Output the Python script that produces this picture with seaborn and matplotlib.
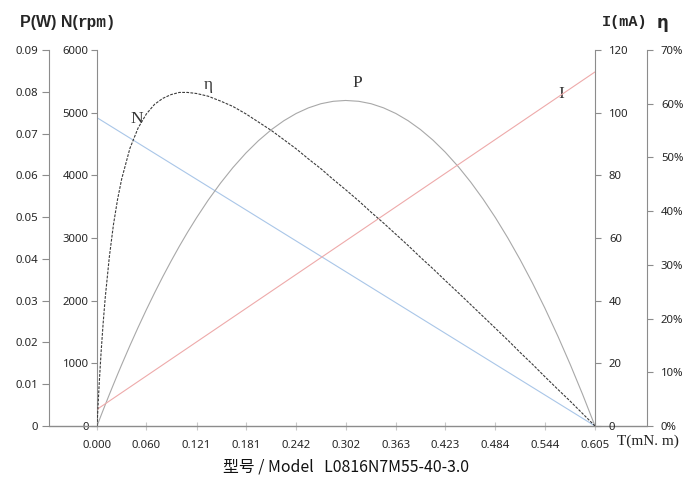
import matplotlib
matplotlib.use("Agg")
import matplotlib.pyplot as plt
import matplotlib.ticker as mticker
import seaborn as sns
import pandas as pd

# ---- data ----
torque = [0, 0.0025, 0.005, 0.0075, 0.01, 0.015, 0.02, 0.025, 0.03, 0.04, 0.05, 0.06,
          0.07, 0.08, 0.09, 0.10, 0.11, 0.121, 0.135, 0.15, 0.165, 0.181, 0.196, 0.212,
          0.227, 0.242, 0.257, 0.272, 0.287, 0.302, 0.318, 0.333, 0.348, 0.363, 0.378,
          0.393, 0.408, 0.423, 0.439, 0.454, 0.469, 0.484, 0.499, 0.514, 0.529, 0.544,
          0.56, 0.575, 0.59, 0.605]
power_w = [0, 0.00128, 0.00256, 0.00382, 0.00507, 0.00754, 0.00996, 0.01235, 0.01469,
           0.01925, 0.02363, 0.02785, 0.03189, 0.03577, 0.03947, 0.04301, 0.04637,
           0.04987, 0.05404, 0.05812, 0.06183, 0.06536, 0.06827, 0.07096, 0.07307,
           0.07481, 0.07616, 0.07714, 0.07772, 0.07792, 0.07772, 0.07714, 0.07616,
           0.07481, 0.07307, 0.07095, 0.06845, 0.06556, 0.06206, 0.05838, 0.05432,
           0.04988, 0.04504, 0.03983, 0.03424, 0.02826, 0.02146, 0.01469, 0.00754, 0]
efficiency = [0, 0.074, 0.138, 0.192, 0.239, 0.315, 0.375, 0.422, 0.460, 0.517, 0.555,
              0.581, 0.599, 0.610, 0.617, 0.621, 0.621, 0.619, 0.614, 0.605, 0.595,
              0.581, 0.566, 0.550, 0.533, 0.516, 0.497, 0.479, 0.459, 0.440, 0.419,
              0.398, 0.378, 0.357, 0.336, 0.314, 0.293, 0.271, 0.248, 0.226, 0.204,
              0.182, 0.160, 0.137, 0.115, 0.092, 0.068, 0.046, 0.023, 0]
torque_lin = [0, 0.605]
speed_rpm = [4920, 0]
current_ma = [5.3, 113]

x_ticks = [0.000, 0.060, 0.121, 0.181, 0.242, 0.302, 0.363, 0.423, 0.484, 0.544, 0.605]
x_tick_labels = ["0.000", "0.060", "0.121", "0.181", "0.242", "0.302", "0.363",
                 "0.423", "0.484", "0.544", "0.605"]

curve_df = pd.DataFrame({"T": torque, "P": power_w, "eta": efficiency})
lin_df = pd.DataFrame({"T": torque_lin, "N": speed_rpm, "I": current_ma})

# ---- styling ----
sns.set_style("white")
plt.rcParams["font.family"] = ["Noto Sans", "DejaVu Sans"]
SPINE = "#8c8c8c"
TICKFONT = 8.2

W, H = 686, 480
fig = plt.figure(figsize=(W / 100, H / 100), dpi=100)
x0, x1, y0, y1 = 97, 595, 50, 426
ax = fig.add_axes([x0 / W, 1 - y1 / H, (x1 - x0) / W, (y1 - y0) / H])
span = x1 - x0

axP = ax.twinx()
axI = ax.twinx()
axE = ax.twinx()
for a in (ax, axP, axI, axE):
    for s in a.spines.values():
        s.set_visible(False)
    a.patch.set_visible(False)
    a.grid(False)

# main (N) axis
ax.set_xlim(0, 0.605)
ax.set_ylim(0, 6000)
ax.spines["left"].set_visible(True)
ax.spines["left"].set_color(SPINE)
ax.yaxis.set_major_locator(mticker.MultipleLocator(1000))
ax.yaxis.set_major_formatter(mticker.FuncFormatter(lambda v, p: f"{int(v)}"))
ax.tick_params(axis="y", left=True, direction="out", length=4, width=0.8,
               color=SPINE, labelsize=TICKFONT, pad=2)
ax.set_xticks(x_ticks)
ax.set_xticklabels(x_tick_labels)
ax.tick_params(axis="x", bottom=True, direction="inout", length=6, width=0.8,
               color="#c8c8c8", labelsize=TICKFONT, pad=7)

# bottom line spanning all axes
ax.plot([-48 / span, (647 - x0) / span], [0, 0], transform=ax.transAxes,
        color=SPINE, lw=1, clip_on=False, zorder=5)

# P axis on far left
axP.set_ylim(0, 0.09)
axP.spines["left"].set_visible(True)
axP.spines["left"].set_position(("axes", -48 / span))
axP.spines["left"].set_color(SPINE)
axP.yaxis.set_ticks_position("left")
axP.yaxis.set_label_position("left")
axP.yaxis.set_major_locator(mticker.MultipleLocator(0.01))
axP.yaxis.set_major_formatter(mticker.FuncFormatter(
    lambda v, p: "0" if abs(v) < 1e-9 else f"{v:.2f}"))
axP.tick_params(axis="y", left=True, right=False, labelleft=True, labelright=False,
                direction="out", length=5, width=0.8, color=SPINE,
                labelsize=TICKFONT, pad=3)

# I axis on right
axI.set_ylim(0, 120)
axI.spines["right"].set_visible(True)
axI.spines["right"].set_color(SPINE)
axI.yaxis.set_major_locator(mticker.MultipleLocator(20))
axI.tick_params(axis="y", right=True, direction="out", length=4, width=0.8,
                color=SPINE, labelsize=TICKFONT, pad=6)

# eta axis far right
axE.set_ylim(0, 0.7)
axE.spines["right"].set_visible(True)
axE.spines["right"].set_position(("axes", (647 - x0) / span))
axE.spines["right"].set_color(SPINE)
axE.yaxis.set_major_locator(mticker.MultipleLocator(0.1))
axE.yaxis.set_major_formatter(mticker.FuncFormatter(lambda v, p: f"{int(round(v * 100))}%"))
axE.tick_params(axis="y", right=True, direction="out", length=4, width=0.8,
                color=SPINE, labelsize=TICKFONT, pad=6)

# ---- curves ----
sns.lineplot(data=lin_df, x="T", y="N", ax=ax, color="#a9c6e8", lw=0.8)
sns.lineplot(data=lin_df, x="T", y="I", ax=axI, color="#eeaaaa", lw=0.8)
sns.lineplot(data=curve_df, x="T", y="P", ax=axP, color="#a8a8a8", lw=0.8)
sns.lineplot(data=curve_df, x="T", y="eta", ax=axE, color="#3c3c3c", lw=0.8)
axE.lines[-1].set_dashes([2.5, 1.2])
for a in (ax, axP, axI, axE):
    a.set_xlabel("")
    a.set_ylabel("")
ax.set_xlim(0, 0.605)

# curve labels
lab_kw = dict(family="Liberation Serif", fontsize=12.5, color="#333333",
              ha="center", va="center")
ax.text(0.0485, 4900, "N", **lab_kw)
ax.text(0.1346, 5440, "η", **lab_kw)
ax.text(0.3164, 5470, "P", **lab_kw)
ax.text(0.5638, 5300, "I", **lab_kw)

# axis titles
t1 = fig.text(20 / W, 1 - 22 / H, "P(W) N(", fontsize=11.5, fontweight="bold",
              ha="left", va="center", family="Liberation Sans")
fig.text(602 / W, 1 - 22 / H, "I(mA)", fontsize=11, fontweight="bold",
         ha="left", va="center", family="Liberation Mono")
fig.text(657 / W, 1 - 23 / H, "η", fontsize=12, fontweight="bold",
         ha="left", va="center", family="DejaVu Sans")
fig.canvas.draw()
ax.annotate("rpm)", xy=(1, 0.5), xycoords=t1, ha="left", va="center",
            fontsize=11.5, fontweight="bold", family="Liberation Mono",
            annotation_clip=False)

fig.text(617 / W, 1 - 441 / H, "T(mN. m)", fontsize=11, ha="left", va="center",
         family="Liberation Serif", color="#222222")
fig.text(346 / W, 1 - 467 / H, "型号 / Model   L0816N7M55-40-3.0", fontsize=11.4,
         ha="center", va="center", family=["Noto Sans CJK SC", "DejaVu Sans"],
         color="#111111")

fig.savefig("out.png", dpi=100)
